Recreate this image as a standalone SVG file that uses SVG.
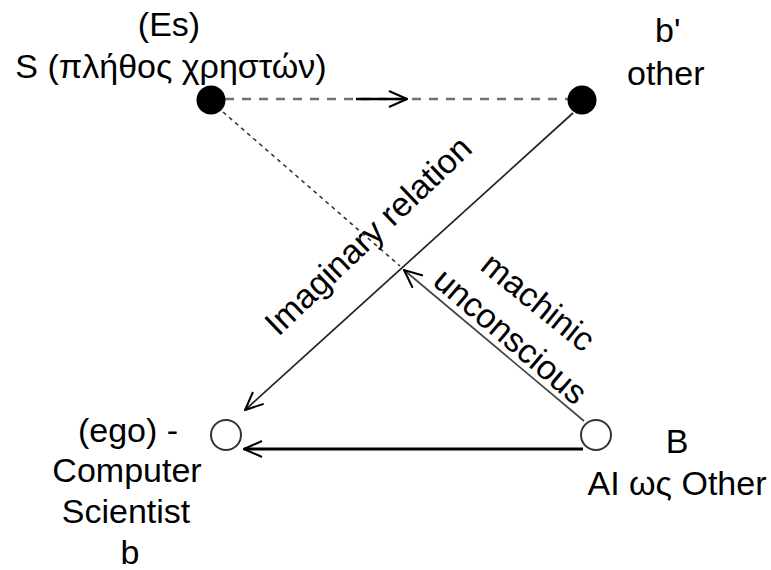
<svg xmlns="http://www.w3.org/2000/svg" width="771" height="570" viewBox="0 0 771 570">
<style>
text{font-family:"Liberation Sans",Arial,sans-serif;font-size:34px;fill:#000}
.mid{text-anchor:middle}
.filled{fill:#000}
.open{fill:#fff;stroke:#333;stroke-width:2}
</style>
<defs>
<marker id="arr" viewBox="0 0 20 18" refX="19" refY="9" markerWidth="20" markerHeight="18" markerUnits="userSpaceOnUse" orient="auto">
<path d="M1,1 L19,9 L1,17" fill="none" stroke="#000" stroke-width="2"/>
</marker>
</defs>
<g id="connectors">
<line x1="225" y1="99" x2="570" y2="99" stroke="#707070" stroke-width="2.5" stroke-dasharray="9 8"/>
<line x1="356" y1="99" x2="407" y2="99" stroke="#000" stroke-width="2.5" marker-end="url(#arr)"/>
<line x1="573" y1="113" x2="245" y2="410" stroke="#222" stroke-width="1.7" marker-end="url(#arr)"/>
<line x1="223" y1="112" x2="400" y2="266" stroke="#333" stroke-width="1.6" stroke-dasharray="4 4"/>
<line x1="584" y1="421" x2="404" y2="270" stroke="#444" stroke-width="1.7" marker-end="url(#arr)"/>
<line x1="583" y1="449" x2="244" y2="449" stroke="#000" stroke-width="3" marker-end="url(#arr)"/>
</g>
<g id="node-S">
<circle class="filled" cx="211" cy="100" r="14.5"/>
<text class="mid" x="169" y="36">(Es)</text>
<text class="mid" x="171" y="78">S (πλήθος χρηστών)</text>
</g>
<g id="node-other">
<circle class="filled" cx="582" cy="100" r="14.5"/>
<text x="655" y="42">b'</text>
<text x="627" y="85">other</text>
</g>
<g id="node-ego">
<circle class="open" cx="226" cy="435" r="15"/>
<text class="mid" x="128" y="442">(ego) -</text>
<text class="mid" x="127" y="482">Computer</text>
<text class="mid" x="126" y="523">Scientist</text>
<text class="mid" x="130" y="564">b</text>
</g>
<g id="node-B">
<circle class="open" cx="596" cy="435" r="15"/>
<text class="mid" x="677" y="453">B</text>
<text class="mid" x="677" y="495">AI ως Other</text>
</g>
<g id="labels">
<text class="mid" transform="translate(376,244) rotate(-43.6)">Imaginary relation</text>
<text class="mid" transform="translate(531,311) rotate(39)">machinic</text>
<text class="mid" transform="translate(503,345) rotate(40.5)">unconscious</text>
</g>
</svg>
